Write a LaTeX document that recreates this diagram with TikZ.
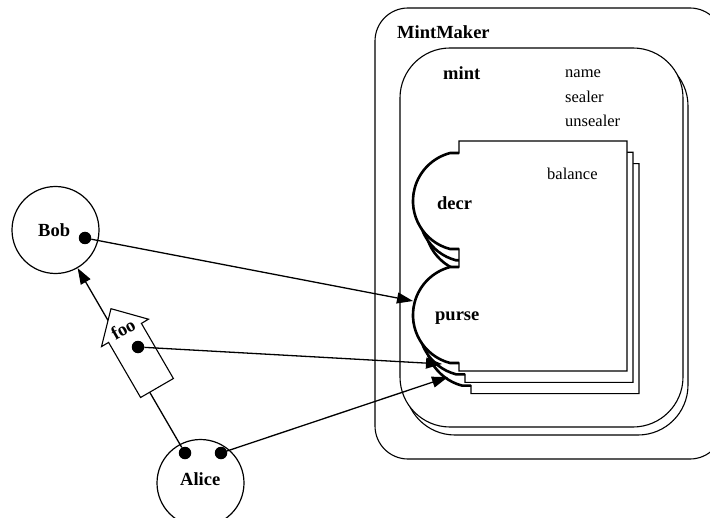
\documentclass[tikz,border=0pt]{standalone}
\usepackage{fontspec}
\setmainfont{Liberation Serif}
\usetikzlibrary{arrows.meta}
\newcommand\mypurse[1]{%
  \begin{scope}[shift={#1}]
    \filldraw[thinln, fill=white] (459,141) -- (627,141) -- (627,371) -- (459,371) -- (459,363) -- (450,363)
      arc[start angle=104.7, end angle=255.3, radius=49.6] -- (459,267) -- (459,249) -- (450,249)
      arc[start angle=104.7, end angle=255.3, radius=49.6] -- (459,153) -- cycle;
    \draw[thickln] (459,363) -- (450,363) arc[start angle=104.7, end angle=255.3, radius=49.6] -- (459,267);
    \draw[thickln] (459,249) -- (450,249) arc[start angle=104.7, end angle=255.3, radius=49.6] -- (459,153);
  \end{scope}}
\begin{document}
\begin{tikzpicture}[x=1bp,y=-1bp,
  thinln/.style={line width=1.1bp},
  thickln/.style={line width=2.6bp},
  boldlbl/.style={inner sep=0pt, anchor=base west, font=\fontsize{18.5bp}{20bp}\selectfont\bfseries},
  plainlbl/.style={inner sep=0pt, anchor=base west, font=\fontsize{16.5bp}{18bp}\selectfont},
  agent/.style={circle, draw, line width=1.2bp, minimum size=87bp, inner sep=0pt},
  blackdot/.style={circle, fill=black, minimum size=12.5bp, inner sep=0pt},
  conn/.style={line width=1.3bp, -{Triangle[length=16bp,width=11bp]}},
]
\clip (0,0) rectangle (710,518);
% MintMaker box
\draw[thinln, rounded corners=33bp] (375,8) rectangle (723,459);
\node[boldlbl] (mintmaker) at (397,39) {MintMaker};
% mint boxes
\draw[thinln, fill=white, rounded corners=50bp] (405,56) rectangle (688,435);
\draw[thinln, fill=white, rounded corners=50bp] (400,48) rectangle (683,427);
\node[boldlbl] (mint) at (443,80) {mint};
\node[plainlbl] (name) at (565,78) {name};
\node[plainlbl] (sealer) at (565,102.5) {sealer};
\node[plainlbl] (unsealer) at (565,127) {unsealer};
% purse stack
\mypurse{(12,22.6)}
\mypurse{(6,11.3)}
\mypurse{(0,0)}
\node[plainlbl] (balance) at (547,180) {balance};
\node[boldlbl] (decr) at (437,210) {decr};
\node[boldlbl] (purse) at (435,320) {purse};
\coordinate (pursetip) at (413,301);
\coordinate (purseB) at (442,364);
\coordinate (purseC) at (448,377);
% agents
\node[agent] (bob) at (55.5,230) {};
\node[boldlbl] (boblbl) at (38,236.5) {Bob};
\node[blackdot] (bobdot) at (85,238) {};
\node[agent] (alice) at (200.5,483) {};
\node[boldlbl] (alicelbl) at (180,485) {Alice};
\node[blackdot] (alicedotL) at (185,453) {};
\node[blackdot] (alicedotR) at (221,453) {};
% Alice -> Bob
\draw[conn] (alicedotL) -- (bob);
% foo block arrow
\filldraw[thinln, fill=white] (140.6,397.5) -- (173.4,378.5) -- (141.4,323.4) -- (148.5,319.2)
  -- (111,308.7) -- (101.5,346.6) -- (108.6,342.4) -- cycle;
\node[inner sep=0pt, rotate=30, font=\fontsize{18.5bp}{20bp}\selectfont\bfseries] (foo) at (123,329) {foo};
\node[blackdot] (foodot) at (138,347) {};
% connectors to purse
\draw[conn] (bobdot) -- (pursetip);
\draw[conn] (foodot) -- (purseB);
\draw[conn] (alicedotR) -- (purseC);
\end{tikzpicture}
\end{document}
